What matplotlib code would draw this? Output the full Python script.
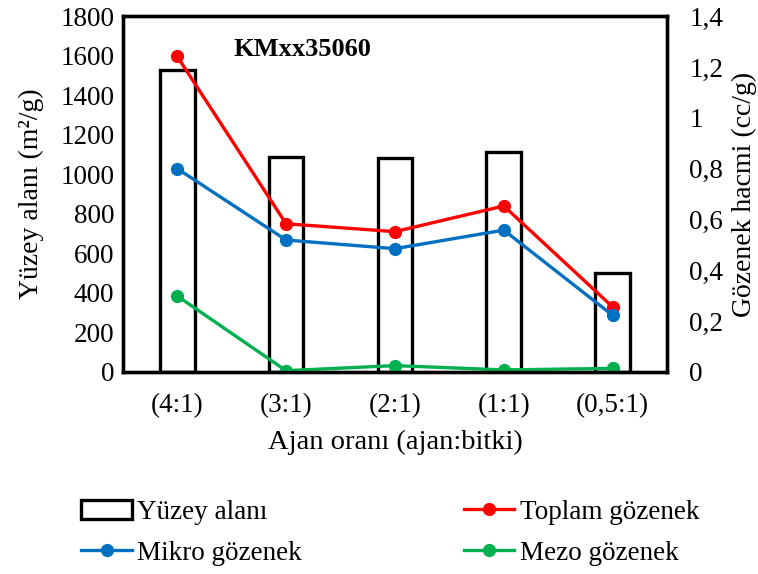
import numpy as np
import matplotlib
matplotlib.use("Agg")
import matplotlib.pyplot as plt
from matplotlib.ticker import FuncFormatter

plt.rcParams["font.family"] = ["Liberation Serif", "DejaVu Serif"]

# Data
categories      = ["(4:1)", "(3:1)", "(2:1)", "(1:1)", "(0,5:1)"]
yuzey_alani     = [1528, 1088, 1083, 1110, 500]
toplam_gozenek  = [1.241, 0.583, 0.552, 0.653, 0.256]
mikro_gozenek   = [0.800, 0.519, 0.485, 0.558, 0.223]
mezo_gozenek    = [0.299, 0.005, 0.025, 0.008, 0.014]

x = np.arange(len(categories))

fig = plt.figure(figsize = (7.58, 5.74), dpi = 100)
ax = fig.add_axes([0.162, 0.352, 0.718, 0.620])
ax2 = ax.twinx()

bars = ax.bar(x, yuzey_alani, width = 0.32, facecolor = "white",
              edgecolor = "black", linewidth = 2.4, label = "Yüzey alanı", zorder = 2)

line_kw = dict(linewidth = 2.4, marker = "o", markersize = 8.5)
l1, = ax2.plot(x, toplam_gozenek, color = "#FF0000", label = "Toplam gözenek", **line_kw)
l2, = ax2.plot(x, mikro_gozenek, color = "#0070C0", label = "Mikro gözenek", **line_kw)
l3, = ax2.plot(x, mezo_gozenek, color = "#00B050", label = "Mezo gözenek", **line_kw)

ax.set_xlim(-0.5, len(categories) - 0.5)
ax.set_ylim(0, 1800)
ax.set_yticks(np.arange(0, 1801, 200))
ax2.set_ylim(0, 1.4)
ax2.set_yticks(np.arange(0, 1.41, 0.2))
ax2.yaxis.set_major_formatter(FuncFormatter(lambda v, p: ("%g" % round(v, 1)).replace(".", ",")))

ax.set_xticks(x)
ax.set_xticklabels(categories)

for a in (ax, ax2):
    a.tick_params(length = 0, labelsize = 19.5)
    for s in a.spines.values():
        s.set_linewidth(2.4)
ax.tick_params(axis = "x", pad = 15)
ax.tick_params(axis = "y", pad = 6)
ax2.tick_params(axis = "y", pad = 16)

ax.set_xlabel("Ajan oranı (ajan:bitki)", fontsize = 20.5, labelpad = 9)
ax.set_ylabel("Yüzey alanı (m²/g)", fontsize = 20, labelpad = 12)
ax2.set_ylabel("Gözenek hacmi (cc/g)", fontsize = 20, labelpad = 6)

ax.text(0.33, 0.905, "KMxx35060", transform = ax.transAxes, ha = "center",
        va = "center", fontsize = 19, fontweight = "bold")

fig.legend([bars, l2, l1, l3], ["Yüzey alanı", "Mikro gözenek", "Toplam gözenek", "Mezo gözenek"],
           loc = "center", bbox_to_anchor = (0.515, 0.072), ncol = 2, frameon = False,
           fontsize = 19.5, columnspacing = 6.0, handlelength = 1.85, handletextpad = 0.2,
           labelspacing = 0.6)

fig.savefig("out.png", dpi = 100)
